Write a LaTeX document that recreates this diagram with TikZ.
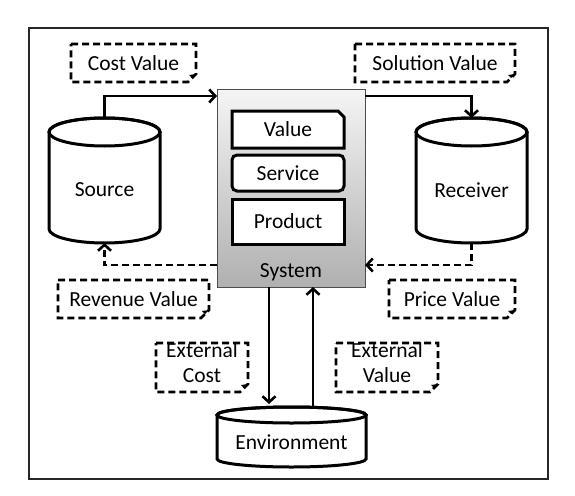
\documentclass[tikz,border=0pt]{standalone}
\usepackage{fontspec}
\setmainfont{Carlito}
\usetikzlibrary{arrows.meta,calc}
\newcommand\notefold[1]{%
  \draw[notedash] (#1.north west) -- (#1.north east) -- ([yshift=8pt]#1.south east)
    -- ([xshift=-8pt]#1.south east) -- (#1.south west) -- cycle;
  \fill ([yshift=8pt]#1.south east) -- ([xshift=-7pt,yshift=7pt]#1.south east)
    -- ([xshift=-4pt,yshift=4pt]#1.south east) -- cycle;}
\begin{document}
\begin{tikzpicture}[x=1pt,y=-1pt,
  every node/.style={inner sep=0pt, outer sep=0pt, font=\fontsize{21.5}{25}\selectfont},
  heavy/.style={line width=3pt},
  arr/.style={line width=2.6pt, -{Straight Barb[length=6pt,width=13pt,line width=2.6pt]}},
  darr/.style={arr, dash pattern=on 7pt off 4pt},
  notedash/.style={line width=2.6pt, dash pattern=on 7pt off 4pt},
  notebox/.style={minimum height=38},
  cylbox/.style={minimum width=111, minimum height=125}]
\useasboundingbox (0,0) rectangle (575,495);
\draw[line width=1.8pt, black!85] (29,28) rectangle (548,479);

% system
\node[draw=gray!60!black, line width=1pt, top color=gray!8, bottom color=gray!62,
      minimum width=148, minimum height=198] (sys) at (291,188) {};
\node (syslbl) at (291,272) {System};

% inner boxes
\node[minimum width=112, minimum height=37] (val) at (288,129.5) {};
\draw[heavy, fill=white] (val.north west) -- ([xshift=-6pt]val.north east)
  -- ([yshift=-6pt]val.north east) -- (val.south east) -- (val.south west) -- cycle;
\node at (val) {Value};
\node[draw, heavy, fill=white, rounded corners=5pt, minimum width=112, minimum height=36] (svc) at (288,173) {Service};
\node[draw, heavy, fill=white, minimum width=112, minimum height=45] (prd) at (288,221.5) {Product};

% source cylinder
\node[cylbox] (src) at (104.5,180.5) {};
\draw[heavy, fill=white] (49,132) -- (49,229) arc[start angle=180, end angle=0, x radius=55.5, y radius=14]
  -- (160,132) arc[start angle=0, end angle=-180, x radius=55.5, y radius=14] -- cycle;
\draw[heavy] (104.5,132) ellipse [x radius=55.5, y radius=14];
\node at (104.5,190) {Source};

% receiver cylinder
\node[cylbox] (rcv) at (471.5,180.5) {};
\draw[heavy, fill=white] (416,132) -- (416,229) arc[start angle=180, end angle=0, x radius=55.5, y radius=14]
  -- (527,132) arc[start angle=0, end angle=-180, x radius=55.5, y radius=14] -- cycle;
\draw[heavy] (471.5,132) ellipse [x radius=55.5, y radius=14];
\node at (471.5,190) {Receiver};

% environment cylinder
\node[minimum width=149, minimum height=60] (env) at (291.5,437) {};
\draw[heavy, fill=white] (217,415) -- (217,459) arc[start angle=180, end angle=0, x radius=74.5, y radius=8]
  -- (366,415) arc[start angle=0, end angle=-180, x radius=74.5, y radius=8] -- cycle;
\draw[heavy] (291.5,415) ellipse [x radius=74.5, y radius=8];
\node at (291.5,442) {Environment};

% connectors
\draw[arr] (src.north) |- ($(sys.north west)+(0,7)$);
\draw[arr] ($(sys.north east)+(0,7)$) -| (rcv.north);
\draw[darr] ($(sys.south west)+(0,-22)$) -| (src.south);
\draw[darr] (rcv.south) |- ($(sys.south east)+(0,-22)$);
\draw[arr] ($(sys.south)+(-22,0)$) -- ($(env.north)+(-22.5,-3)$);
\draw[arr] ($(env.north)+(21.5,0)$) -- ($(sys.south)+(22,0)$);

% notes
\node[notebox, minimum width=125] (cv) at (133.5,63) {Cost Value};
\notefold{cv}
\node[notebox, minimum width=160] (sv) at (435,63) {Solution Value};
\notefold{sv}
\node[notebox, minimum width=151] (rv) at (133.5,299) {Revenue Value};
\notefold{rv}
\node[notebox, minimum width=126] (pv) at (452,299) {Price Value};
\notefold{pv}
\node[minimum width=92, minimum height=49] (ec) at (202,367.5) {};
\notefold{ec}
\node[align=center] at (202,362.5) {External\\Cost};
\node[minimum width=102, minimum height=49] (ev) at (387,367.5) {};
\notefold{ev}
\node[align=center] at (387,362.5) {External\\Value};
\end{tikzpicture}
\end{document}
